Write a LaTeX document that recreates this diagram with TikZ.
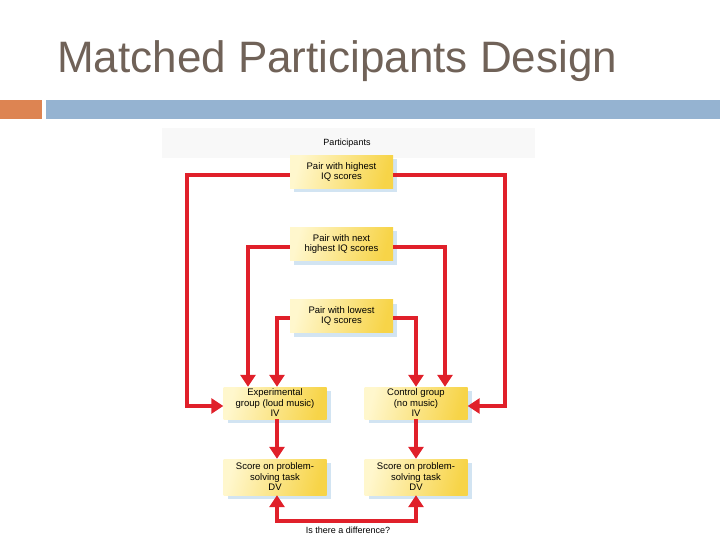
\documentclass[tikz,border=0pt]{standalone}
\usepackage{fontspec}
\setmainfont{Liberation Sans}
\usetikzlibrary{arrows.meta,calc,shadows}
\definecolor{titlecol}{RGB}{112,98,88}
\definecolor{orangebar}{RGB}{221,132,82}
\definecolor{bluebar}{RGB}{149,179,209}
\definecolor{boxL}{RGB}{255,247,205}
\definecolor{boxR}{RGB}{247,212,72}
\definecolor{shadowcol}{RGB}{210,228,242}
\definecolor{conncol}{RGB}{224,32,42}
\definecolor{bandcol}{RGB}{248,248,248}
\begin{document}
\begin{tikzpicture}[x=1pt,y=-1pt,
  box/.style={draw=none, minimum width=103pt, minimum height=33pt, align=center,
    inner sep=0pt, font=\fontsize{9.5}{10.5}\selectfont,
    left color=boxL, right color=boxR, shading angle=75,
    drop shadow={shadow xshift=4pt, shadow yshift=-4pt, fill=shadowcol, opacity=1}},
  tip/.style={Triangle[width=15pt,length=12pt]},
  conn/.style={draw=conncol, line width=4pt, -{Triangle[width=15pt,length=12pt]}},
  lbl/.style={font=\fontsize{9}{10}\selectfont, inner sep=0pt}]
\useasboundingbox (0,0) rectangle (720,540);
% title and bars
\node[anchor=base west, inner sep=0pt, text=titlecol, font=\fontsize{44}{48}\selectfont] (title) at (57,73) {Matched Participants Design};
\fill[orangebar] (0,100) rectangle (42,119);
\fill[bluebar] (46,100) rectangle (720,119);
% header band
\fill[bandcol] (162,128) rectangle (535,158);
\node[lbl] (part) at (347,143) {Participants};
% boxes
\node[box] (b1) at (341.5,172) {Pair with highest\\IQ scores};
\node[box] (b2) at (341.5,244) {Pair with next\\highest IQ scores};
\node[box] (b3) at (341.5,316) {Pair with lowest\\IQ scores};
\node[box, minimum height=32pt] (exp) at (275,403) {Experimental\\group (loud music)\\IV};
\node[box, minimum height=32pt] (ctl) at (416,403) {Control group\\(no music)\\IV};
\node[box, minimum height=36pt] (s1) at (275,477) {Score on problem-\\solving task\\DV};
\node[box, minimum height=36pt] (s2) at (416,477) {Score on problem-\\solving task\\DV};
\node[lbl] (diff) at (348,530) {Is there a difference?};
% connectors
\draw[conn] ([yshift=-3pt]b1.west) -| ($(exp.west)+(-36,3)$) -- ([yshift=-3pt]exp.west);
\draw[conn] ([yshift=-3pt]b1.east) -| ($(ctl.east)+(37,3)$) -- ([yshift=-3pt]ctl.east);
\draw[conn] ([yshift=-3pt]b2.west) -| ([xshift=-27pt]exp.north);
\draw[conn] ([yshift=-3pt]b2.east) -| ([xshift=29pt]ctl.north);
\draw[conn] ([yshift=-2pt]b3.west) -| ([xshift=2pt]exp.north);
\draw[conn] ([yshift=-2pt]b3.east) -| (ctl.north);
\draw[conn] ([xshift=2pt]exp.south) -- ([xshift=2pt]s1.north);
\draw[conn] (ctl.south) -- (s2.north);
\draw[conn, {Triangle[width=15pt,length=12pt]}-{Triangle[width=15pt,length=12pt]}] ([xshift=2pt]s1.south) -- ++(0,26) -| (s2.south);
\end{tikzpicture}
\end{document}
